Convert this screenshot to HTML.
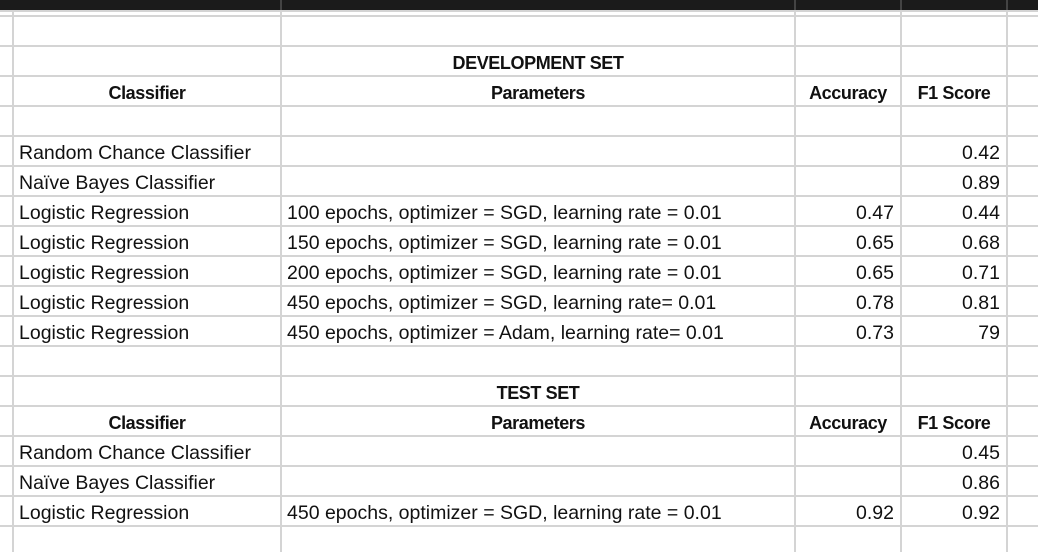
<!DOCTYPE html>
<html><head><style>
body{margin:0;width:1038px;height:552px;overflow:hidden;background:#fff;position:relative;font-family:"Liberation Sans",Arial,sans-serif;font-size:19.5px;color:#111}
.h{position:absolute;left:0;width:1038px;height:2px;background:#d4d4d4}
.v{position:absolute;top:10px;width:2px;height:542px;background:#d4d4d4}
.t{position:absolute;height:30px;line-height:33px;white-space:nowrap}
.b{font-weight:bold;letter-spacing:-0.4px;font-size:18px}
.c{text-align:center}
.r{text-align:right}
</style></head><body>
<div style="position:absolute;left:0;top:0;width:1038px;height:10px;background:#1b1b1b"></div>
<div style="position:absolute;left:0;top:10px;width:1038px;height:2px;background:#d4d4d4"></div>
<div id="g"></div>
<script>
var g=document.getElementById('g'),s='';
for(var y=16;y<552;y+=30){s+='<div class="h" style="top:'+(y-1)+'px"></div>';}
[12,280,794,900,1006].forEach(function(x){s+='<div class="v" style="left:'+x+'px"></div>';});
g.innerHTML=s;
</script>
<div style="position:absolute;left:280px;top:0;width:2px;height:10px;background:#444"></div>
<div style="position:absolute;left:794px;top:0;width:2px;height:10px;background:#444"></div>
<div style="position:absolute;left:900px;top:0;width:2px;height:10px;background:#444"></div>
<div style="position:absolute;left:1006px;top:0;width:2px;height:10px;background:#444"></div>

<div class="t b c" style="left:282px;width:512px;top:47px">DEVELOPMENT SET</div>
<div class="t b c" style="left:14px;width:266px;top:77px">Classifier</div>
<div class="t b c" style="left:282px;width:512px;top:77px">Parameters</div>
<div class="t b c" style="left:796px;width:104px;top:77px">Accuracy</div>
<div class="t b c" style="left:902px;width:104px;top:77px">F1 Score</div>

<div class="t" style="left:19px;top:137px">Random Chance Classifier</div>
<div class="t r" style="left:902px;width:98px;top:137px">0.42</div>
<div class="t" style="left:19px;top:167px">Naïve Bayes Classifier</div>
<div class="t r" style="left:902px;width:98px;top:167px">0.89</div>

<div class="t" style="left:19px;top:197px">Logistic Regression</div>
<div class="t" style="left:287px;top:197px">100 epochs, optimizer = SGD, learning rate = 0.01</div>
<div class="t r" style="left:796px;width:98px;top:197px">0.47</div>
<div class="t r" style="left:902px;width:98px;top:197px">0.44</div>

<div class="t" style="left:19px;top:227px">Logistic Regression</div>
<div class="t" style="left:287px;top:227px">150 epochs, optimizer = SGD, learning rate = 0.01</div>
<div class="t r" style="left:796px;width:98px;top:227px">0.65</div>
<div class="t r" style="left:902px;width:98px;top:227px">0.68</div>

<div class="t" style="left:19px;top:257px">Logistic Regression</div>
<div class="t" style="left:287px;top:257px">200 epochs, optimizer = SGD, learning rate = 0.01</div>
<div class="t r" style="left:796px;width:98px;top:257px">0.65</div>
<div class="t r" style="left:902px;width:98px;top:257px">0.71</div>

<div class="t" style="left:19px;top:287px">Logistic Regression</div>
<div class="t" style="left:287px;top:287px">450 epochs, optimizer = SGD, learning rate= 0.01</div>
<div class="t r" style="left:796px;width:98px;top:287px">0.78</div>
<div class="t r" style="left:902px;width:98px;top:287px">0.81</div>

<div class="t" style="left:19px;top:317px">Logistic Regression</div>
<div class="t" style="left:287px;top:317px">450 epochs, optimizer = Adam, learning rate= 0.01</div>
<div class="t r" style="left:796px;width:98px;top:317px">0.73</div>
<div class="t r" style="left:902px;width:98px;top:317px">79</div>

<div class="t b c" style="left:282px;width:512px;top:377px">TEST SET</div>
<div class="t b c" style="left:14px;width:266px;top:407px">Classifier</div>
<div class="t b c" style="left:282px;width:512px;top:407px">Parameters</div>
<div class="t b c" style="left:796px;width:104px;top:407px">Accuracy</div>
<div class="t b c" style="left:902px;width:104px;top:407px">F1 Score</div>

<div class="t" style="left:19px;top:437px">Random Chance Classifier</div>
<div class="t r" style="left:902px;width:98px;top:437px">0.45</div>
<div class="t" style="left:19px;top:467px">Naïve Bayes Classifier</div>
<div class="t r" style="left:902px;width:98px;top:467px">0.86</div>
<div class="t" style="left:19px;top:497px">Logistic Regression</div>
<div class="t" style="left:287px;top:497px">450 epochs, optimizer = SGD, learning rate = 0.01</div>
<div class="t r" style="left:796px;width:98px;top:497px">0.92</div>
<div class="t r" style="left:902px;width:98px;top:497px">0.92</div>
</body></html>
